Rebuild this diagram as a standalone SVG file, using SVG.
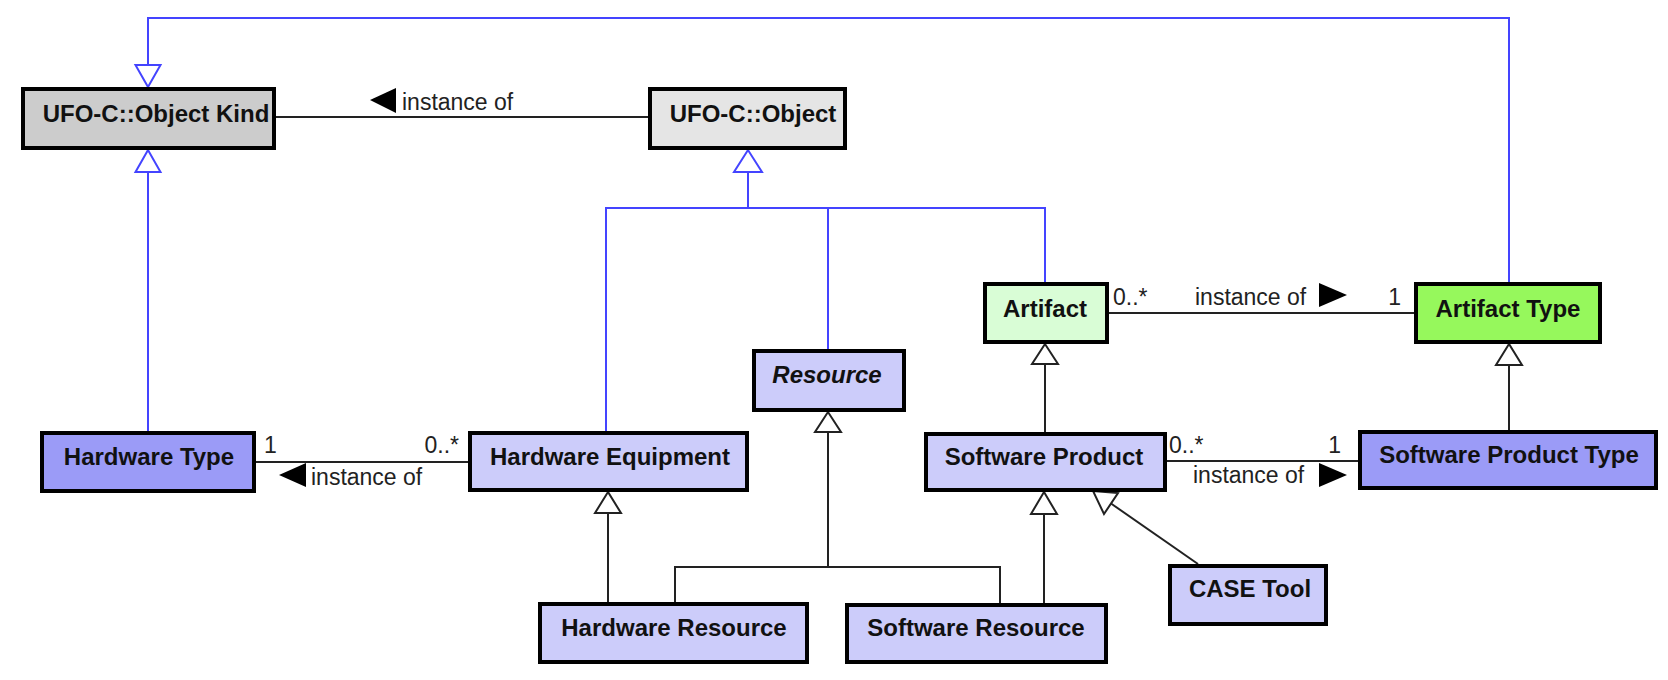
<svg xmlns="http://www.w3.org/2000/svg" width="1668" height="680" viewBox="0 0 1668 680">
<style>
.box{stroke:#000;stroke-width:4}
.t{font-family:"Liberation Sans",Arial,sans-serif;font-size:24px;font-weight:bold;fill:#111;text-anchor:middle}
.l{font-family:"Liberation Sans",Arial,sans-serif;font-size:23px;fill:#222}
.blue{stroke:#4444ff;stroke-width:2;fill:none}
.blk{stroke:#222;stroke-width:2;fill:none}
.hb{stroke:#4444ff;stroke-width:2;fill:#fff}
.hk{stroke:#222;stroke-width:2;fill:#fff}
.dir{fill:#000}
.c1{fill:#cccccc}.c2{fill:#e5e5e5}.c3{fill:#ccccfa}.c4{fill:#9b9bf7}.c5{fill:#d9fdd6}.c6{fill:#96f85c}
</style>
<g id="connectors">
  <!-- blue generalizations -->
  <polyline class="blue" points="1509,282 1509,18 148,18 148,65"/>
  <polygon class="hb" points="148,87 135.5,65 160.5,65"/>
  <line class="blue" x1="148" y1="431" x2="148" y2="172"/>
  <polygon class="hb" points="148,150 135.5,172 160.5,172"/>
  <line class="blue" x1="748" y1="172" x2="748" y2="208"/>
  <polyline class="blue" points="606,431 606,208 1045,208 1045,282"/>
  <line class="blue" x1="828" y1="208" x2="828" y2="349"/>
  <polygon class="hb" points="748,150 734,172 762,172"/>
  <!-- associations -->
  <line class="blk" x1="276" y1="117" x2="648" y2="117"/>
  <polygon class="dir" points="370,100 396,88 396,113"/>
  <text class="l" x="402" y="110">instance of</text>
  <line class="blk" x1="256" y1="462" x2="468" y2="462"/>
  <text class="l" x="264" y="453">1</text>
  <text class="l" x="459" y="453" text-anchor="end">0..*</text>
  <polygon class="dir" points="279,475 306,463 306,487"/>
  <text class="l" x="311" y="485">instance of</text>
  <line class="blk" x1="1109" y1="313" x2="1414" y2="313"/>
  <text class="l" x="1113" y="305">0..*</text>
  <text class="l" x="1195" y="305">instance of</text>
  <polygon class="dir" points="1347,295 1319,283 1319,307"/>
  <text class="l" x="1401" y="305" text-anchor="end">1</text>
  <line class="blk" x1="1167" y1="461" x2="1358" y2="461"/>
  <text class="l" x="1169" y="453">0..*</text>
  <text class="l" x="1341" y="453" text-anchor="end">1</text>
  <text class="l" x="1193" y="483">instance of</text>
  <polygon class="dir" points="1347,475 1319,463 1319,487"/>
  <!-- black generalizations -->
  <line class="blk" x1="1509" y1="365" x2="1509" y2="430"/>
  <polygon class="hk" points="1509,344 1496,365 1522,365"/>
  <line class="blk" x1="1045" y1="364" x2="1045" y2="432"/>
  <polygon class="hk" points="1045,344 1032,364 1058,364"/>
  <polyline class="blk" points="828,432 828,567"/>
  <polyline class="blk" points="675,602 675,567 1000,567 1000,603"/>
  <polygon class="hk" points="828,412 815,432 841,432"/>
  <line class="blk" x1="608" y1="513" x2="608" y2="602"/>
  <polygon class="hk" points="608,492 595,513 621,513"/>
  <line class="blk" x1="1044" y1="514" x2="1044" y2="603"/>
  <polygon class="hk" points="1044,492 1031,514 1057,514"/>
  <line class="blk" x1="1111" y1="503.5" x2="1198" y2="564"/>
  <polygon class="hk" points="1093,491 1118,493 1104,514"/>
</g>
<g id="object-kind"><rect class="box c1" x="23" y="89" width="251" height="59"/><text class="t" x="156" y="122">UFO-C::Object Kind</text></g>
<g id="object"><rect class="box c2" x="650" y="89" width="195" height="59"/><text class="t" x="753" y="122">UFO-C::Object</text></g>
<g id="hardware-type"><rect class="box c4" x="42" y="433" width="212" height="58"/><text class="t" x="149" y="465">Hardware Type</text></g>
<g id="hardware-equipment"><rect class="box c3" x="470" y="433" width="277" height="57"/><text class="t" x="610" y="465">Hardware Equipment</text></g>
<g id="resource"><rect class="box c3" x="754" y="351" width="150" height="59"/><text class="t" x="827" y="383" font-style="italic">Resource</text></g>
<g id="artifact"><rect class="box c5" x="985" y="284" width="122" height="58"/><text class="t" x="1045" y="317">Artifact</text></g>
<g id="artifact-type"><rect class="box c6" x="1416" y="284" width="184" height="58"/><text class="t" x="1508" y="317">Artifact Type</text></g>
<g id="software-product"><rect class="box c3" x="926" y="434" width="239" height="56"/><text class="t" x="1044" y="465">Software Product</text></g>
<g id="software-product-type"><rect class="box c4" x="1360" y="432" width="296" height="56"/><text class="t" x="1509" y="463">Software Product Type</text></g>
<g id="hardware-resource"><rect class="box c3" x="540" y="604" width="267" height="58"/><text class="t" x="674" y="636">Hardware Resource</text></g>
<g id="software-resource"><rect class="box c3" x="847" y="605" width="259" height="57"/><text class="t" x="976" y="636">Software Resource</text></g>
<g id="case-tool"><rect class="box c3" x="1170" y="566" width="156" height="58"/><text class="t" x="1250" y="597">CASE Tool</text></g>
</svg>
